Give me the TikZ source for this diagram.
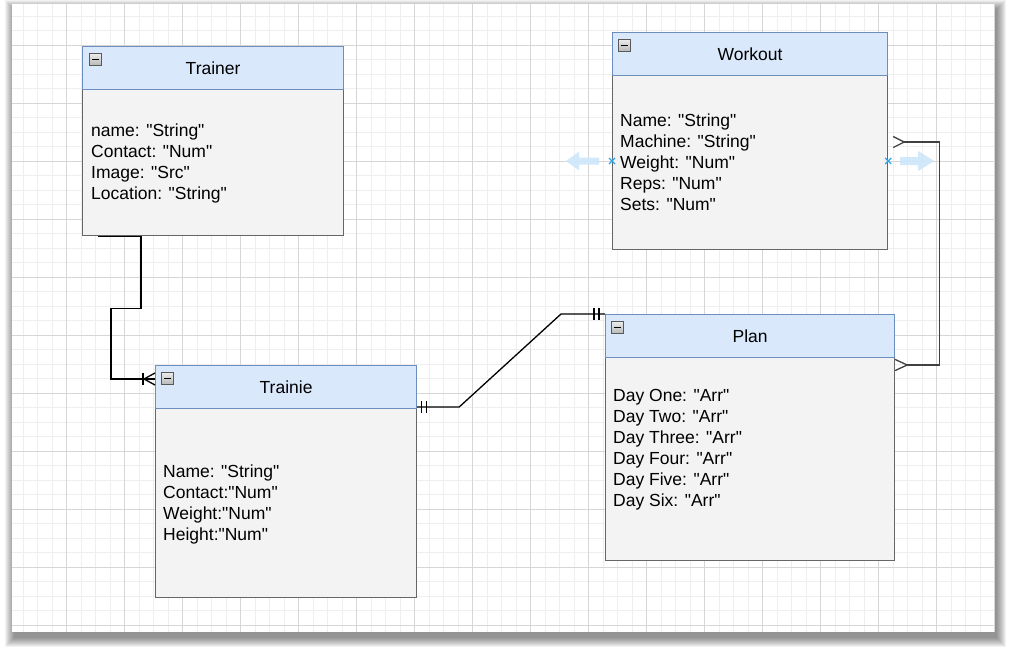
\documentclass[tikz,border=0pt]{standalone}
\usepackage{fontspec}
\setmainfont{Liberation Sans}[Ligatures=TeXOff]
\usetikzlibrary{calc}
\definecolor{hdrfill}{HTML}{DAE8FC}
\definecolor{hdrdraw}{HTML}{6C8EBF}
\definecolor{bodyfill}{HTML}{F3F3F3}
\definecolor{bodydraw}{HTML}{666666}
\definecolor{gridminor}{HTML}{EEEEEE}
\definecolor{gridmajor}{HTML}{D6D6D6}
\definecolor{hoverblue}{HTML}{CDE7FA}
\definecolor{xblue}{HTML}{2EA3E8}
\definecolor{darkline}{HTML}{404040}
\begin{document}
\begin{tikzpicture}[x=1pt,y=-1pt,
  hdr/.style={draw=hdrdraw, fill=hdrfill, line width=1.2pt, anchor=north west, inner sep=0pt, font=\fontsize{17.5}{21}\selectfont},
  bodybox/.style={draw=bodydraw, fill=bodyfill, line width=1.2pt, anchor=north west, inner sep=0pt},
  attrs/.style={anchor=north west, align=left, inner sep=0pt, font=\fontsize{17.5}{21}\selectfont},
  minusbtn/.style={anchor=north west, minimum size=12pt, inner sep=0pt, draw=gray!70!black, line width=0.6pt,
     top color=gray!15, bottom color=gray!55,
     path picture={\draw[line width=1.6pt, black] ([xshift=2.5pt]path picture bounding box.west) -- ([xshift=-2.5pt]path picture bounding box.east);}},
  conn/.style={line width=1.3pt, black},
  connd/.style={line width=1.3pt, darkline},
  xmark/.style={line width=1.3pt, xblue},
  hover/.style={fill=hoverblue, draw=none, opacity=0.9}]
\useasboundingbox (0,0) rectangle (1012,654);
\fill[white] (0,0) rectangle (1012,654);
% canvas shadow
\foreach \s in {0,...,9}{
  \fill[black, opacity=0.05] (12-\s+2, 4-\s+5) rectangle (995+\s+2, 632+\s+6);
}
\fill[white] (12,4) rectangle (995,632);
% grid
\begin{scope}
\clip (12,4) rectangle (995,632);
\foreach \i in {0,...,67}{
  \draw[gridminor, line width=1pt] ({23.2+14.5*\i},4) -- ({23.2+14.5*\i},632);
}
\foreach \j in {0,...,43}{
  \draw[gridminor, line width=1pt] (12,{16+14.5*\j}) -- (995,{16+14.5*\j});
}
\foreach \i in {0,...,16}{
  \draw[gridmajor, line width=1pt] ({66.7+58*\i},4) -- ({66.7+58*\i},632);
}
\foreach \j in {0,...,10}{
  \draw[gridmajor, line width=1pt] (12,{45+58*\j}) -- (995,{45+58*\j});
}
\end{scope}

% Trainer
\node[bodybox, minimum width=261pt, minimum height=146pt] (trainerB) at (82,89) {};
\node[hdr, minimum width=261pt, minimum height=43pt] (trainerH) at (82,46) {Trainer};
\node[minusbtn] (trainerM) at (89,53) {};
\node[attrs] (trainerA) at (91,123.5) {name: "String"\\Contact: "Num"\\Image: "Src"\\Location: "String"};

% Workout
\node[bodybox, minimum width=275pt, minimum height=174pt] (workoutB) at (612,75) {};
\node[hdr, minimum width=275pt, minimum height=43pt] (workoutH) at (612,32) {Workout};
\node[minusbtn] (workoutM) at (618,39) {};
\node[attrs] (workoutA) at (620,113.5) {Name: "String"\\Machine: "String"\\Weight: "Num"\\Reps: "Num"\\Sets: "Num"};

% Trainie
\node[bodybox, minimum width=261pt, minimum height=189pt] (trainieB) at (155,408) {};
\node[hdr, minimum width=261pt, minimum height=43pt] (trainieH) at (155,365) {Trainie};
\node[minusbtn] (trainieM) at (161,372) {};
\node[attrs] (trainieA) at (163,464.5) {Name: "String"\\Contact:"Num"\\Weight:"Num"\\Height:"Num"};

% Plan
\node[bodybox, minimum width=289pt, minimum height=203pt] (planB) at (605,357) {};
\node[hdr, minimum width=289pt, minimum height=43pt] (planH) at (605,314) {Plan};
\node[minusbtn] (planM) at (611,321) {};
\node[attrs] (planA) at (613,389.5) {Day One: "Arr"\\Day Two: "Arr"\\Day Three: "Arr"\\Day Four: "Arr"\\Day Five: "Arr"\\Day Six: "Arr"};

% Trainer -> Trainie (one or many)
\coordinate (c1s) at ($(trainerB.south west)+(16,0)$);
\coordinate (c1e) at ($(trainieH.north west)+(0,14)$);
\draw[conn] (c1s) -- ++(43,0) -- ++(0,72) -- ++(-30,0) |- (c1e);
\draw[conn] ($(c1e)+(-12,-6)$) -- ($(c1e)+(-12,6)$);
\draw[conn] ($(c1e)+(0,-6)$) -- ($(c1e)+(-11,0)$) -- ($(c1e)+(0,6)$);

% Trainie -> Plan (one and only one, both ends)
\coordinate (c2s) at ($(trainieB.north east)+(0,-1)$);
\coordinate (c2e) at (planH.north west);
\draw[conn] (c2s) -- ++(42,0) -- ($(c2e)+(-44,0)$) -- (c2e);
\draw[conn] ($(c2s)+(4,-6)$) -- ($(c2s)+(4,6)$) ($(c2s)+(9,-6)$) -- ($(c2s)+(9,6)$);
\draw[conn] ($(c2e)+(-11,-6)$) -- ($(c2e)+(-11,6)$) ($(c2e)+(-6,-6)$) -- ($(c2e)+(-6,6)$);

% Workout -> Plan (many, both ends)
\coordinate (c3s) at ($(workoutB.north east)+(0,67)$);
\coordinate (c3e) at ($(planB.north east)+(0,8)$);
\draw[connd] ($(c3s)+(16,0)$) -- ($(c3s)+(51,0)$) |- ($(c3e)+(12,0)$);
\draw[connd] ($(c3s)+(5,-5.5)$) -- ($(c3s)+(16,0)$) -- ($(c3s)+(5,5.5)$);
\draw[connd] ($(c3e)+(0,-5.5)$) -- ($(c3e)+(12,0)$) -- ($(c3e)+(0,5.5)$);

% hover arrows and x marks on Workout
\coordinate (wl) at ($(workoutB.north west)+(0,86)$);
\coordinate (wr) at ($(workoutB.north east)+(0,86)$);
\fill[hover] ($(wl)+(-46,0)$) -- ($(wl)+(-33,-9.5)$) -- ($(wl)+(-33,-3.5)$) -- ($(wl)+(-13,-3.5)$) -- ($(wl)+(-13,3.5)$) -- ($(wl)+(-33,3.5)$) -- ($(wl)+(-33,9.5)$) -- cycle;
\fill[hover] ($(wr)+(46,0)$) -- ($(wr)+(30,-10)$) -- ($(wr)+(30,-4)$) -- ($(wr)+(12,-4)$) -- ($(wr)+(12,4)$) -- ($(wr)+(30,4)$) -- ($(wr)+(30,10)$) -- cycle;
\draw[xmark] ($(wl)+(-3,-3)$) -- ($(wl)+(3,3)$) ($(wl)+(-3,3)$) -- ($(wl)+(3,-3)$);
\draw[xmark] ($(wr)+(-3,-3)$) -- ($(wr)+(3,3)$) ($(wr)+(-3,3)$) -- ($(wr)+(3,-3)$);
\end{tikzpicture}
\end{document}
